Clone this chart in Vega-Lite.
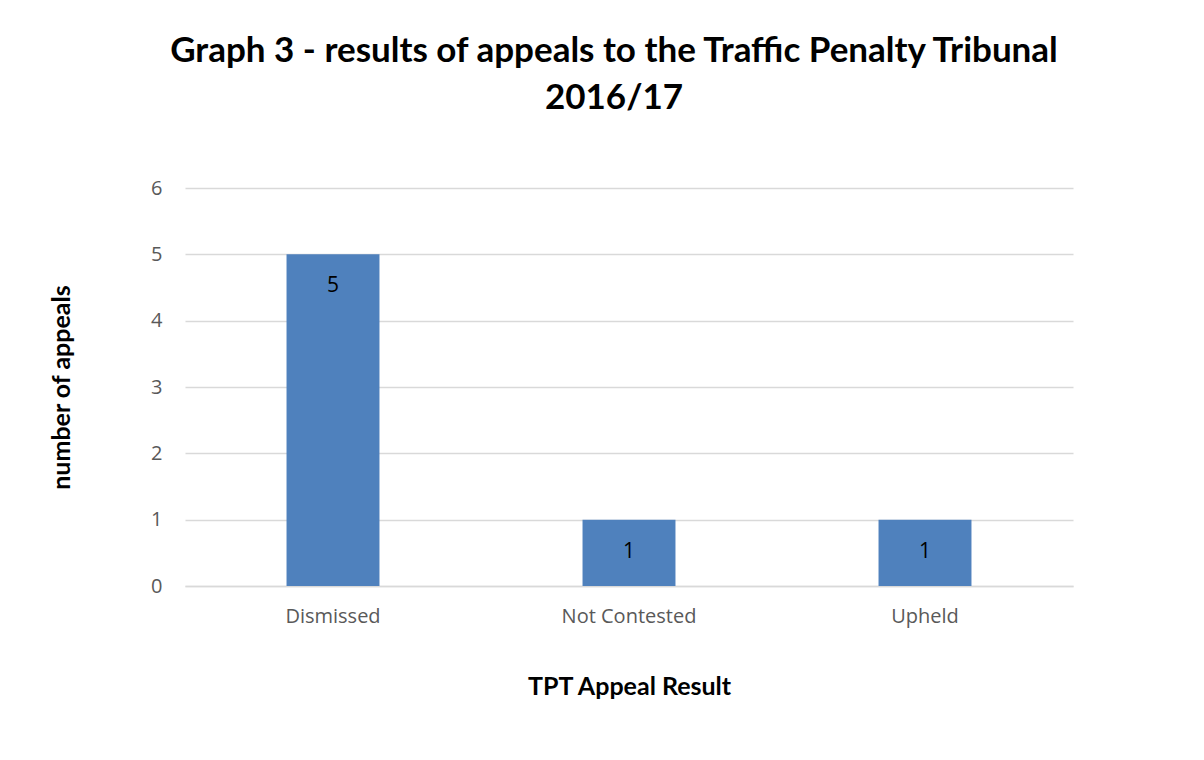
{
  "$schema": "https://vega.github.io/schema/vega-lite/v6.json",
  "autosize": {"type": "none"},
  "width": 888,
  "height": 398,
  "padding": {"left": 185, "top": 188, "right": 131, "bottom": 174},
  "background": "white",
  "data": {"values": [
    {"result": "Dismissed", "appeals": 5},
    {"result": "Not Contested", "appeals": 1},
    {"result": "Upheld", "appeals": 1}
  ]},
  "title": {
    "text": ["Graph 3 - results of appeals to the Traffic Penalty Tribunal", "2016/17"],
    "font": "Lato",
    "fontSize": 35,
    "fontWeight": "bold",
    "color": "#000000",
    "anchor": "middle",
    "frame": "group",
    "dx": -15,
    "offset": 62,
    "lineHeight": 47
  },
  "config": {
    "view": {"stroke": null},
    "font": "Open Sans"
  },
  "encoding": {
    "x": {
      "field": "result", "type": "nominal", "sort": null,
      "scale": {"paddingInner": 0.686, "paddingOuter": 0.343},
      "axis": {
        "title": "TPT Appeal Result",
        "titleFont": "Lato", "titleFontSize": 25, "titleFontWeight": "bold", "titleColor": "#000000",
        "titlePadding": 48,
        "labelAngle": 0, "labelFontSize": 20, "labelColor": "#595959", "labelPadding": 20,
        "ticks": false, "domain": true, "domainColor": "#D9D9D9", "domainWidth": 1.5
      }
    },
    "y": {
      "field": "appeals", "type": "quantitative",
      "scale": {"domain": [0, 6]},
      "axis": {
        "title": "number of appeals",
        "titleFont": "Lato", "titleFontSize": 25, "titleFontWeight": "bold", "titleColor": "#000000",
        "titlePadding": 76,
        "values": [0, 1, 2, 3, 4, 5, 6], "format": "d",
        "labelFontSize": 20, "labelColor": "#595959", "labelPadding": 23,
        "ticks": false, "domain": false,
        "grid": true, "gridColor": "#D9D9D9", "gridWidth": 1.5
      }
    }
  },
  "layer": [
    {"mark": {"type": "bar", "color": "#4F81BD"}},
    {
      "mark": {"type": "text", "baseline": "middle", "dy": 32, "fontSize": 21, "color": "#000000"},
      "encoding": {"text": {"field": "appeals", "type": "quantitative"}}
    }
  ]
}
